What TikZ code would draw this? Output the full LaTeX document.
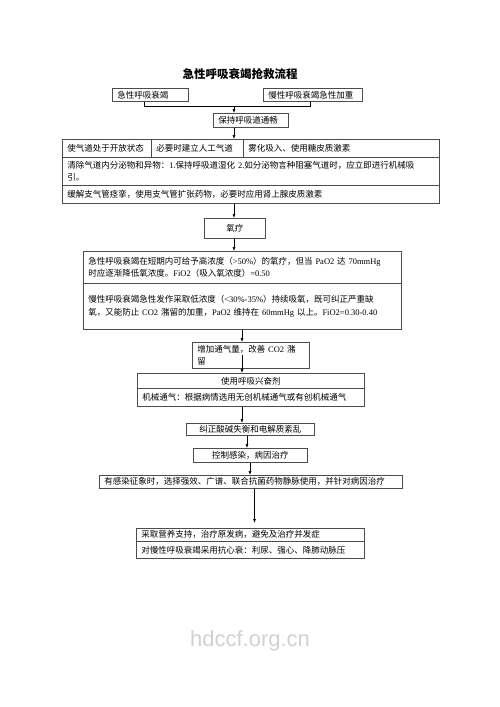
\documentclass[tikz,border=0pt]{standalone}
\usepackage{fontspec}
\setmainfont{Liberation Serif}
\newfontfamily\cjk{Noto Sans CJK SC}
\newfontfamily\wmfont{Liberation Sans}
\usetikzlibrary{arrows.meta}

\newcommand{\bodyfont}{\cjk\fontsize{8.5}{12.5}\selectfont}
\newcommand{\en}[1]{{\rmfamily #1}}

\tikzset{
  box/.style={draw=black!70, line width=0.6pt, anchor=north west,
    inner xsep=5pt, inner ysep=0pt, font=\bodyfont, align=left},
  midbox/.style={box, align=center},
}

\begin{document}
\begin{tikzpicture}[x=1pt, y=-1pt, >={Latex[length=4pt,width=3pt]}, line width=0.6pt]
\useasboundingbox (0,0) rectangle (500,707);

% Title
\node[font=\cjk\bfseries\fontsize{11.5}{14}\selectfont] (title) at (240,74) {急性呼吸衰竭抢救流程};

% Entry boxes
\node[box, text width=66pt, minimum height=13pt] (acute) at (112,88) {急性呼吸衰竭};
\node[box, text width=89pt, minimum height=13pt] (chronic) at (263,88) {慢性呼吸衰竭急性加重};
\node[box, text width=65pt, minimum height=14pt] (airway) at (213,113) {保持呼吸道通畅};

% Airway measures
\node[box, text width=79pt, minimum height=18pt] (cella) at (62,139) {使气道处于开放状态};
\node[box, text width=82pt, minimum height=18pt] (cellb) at (151,139) {必要时建立人工气道};
\node[box, text width=186pt, minimum height=18pt] (cellc) at (243,139) {雾化吸入、使用糖皮质激素};
\node[box, text width=367pt, minimum height=28pt] (rowb) at (62,157) {清除气道内分泌物和异物：\en{1.}保持呼吸道湿化 \en{2.}如分泌物言种阻塞气道时，应立即进行机械吸\\引。};
\node[box, text width=367pt, minimum height=18pt] (rowc) at (62,185) {缓解支气管痉挛，使用支气管扩张药物，必要时应用肾上腺皮质激素};

% Oxygen therapy
\node[midbox, text width=51pt, minimum height=20pt] (oxygen) at (204,218) {氧疗};
\node[box, text width=308pt, minimum height=32pt] (acuteo2) at (83,251) {急性呼吸衰竭在短期内可给予高浓度（\en{>50\%}）的氧疗，但当 \en{PaO2} 达 \en{70mmHg}\\时应逐渐降低氧浓度。\en{FiO2}（吸入氧浓度）\en{=0.50}};
\node[box, text width=308pt, minimum height=46pt] (chronico2) at (83,283) {慢性呼吸衰竭急性发作采取低浓度（\en{<30\%-35\%}）持续吸氧，既可纠正严重缺\\氧，又能防止 \en{CO2} 潴留的加重，\en{PaO2} 维持在 \en{60mmHg} 以上。\en{FiO2=0.30-0.40}};

% Ventilation
\node[box, text width=107pt, minimum height=26pt] (venti) at (192,342) {增加通气量，改善 \en{CO2} 潴\\留};
\node[midbox, text width=217pt, minimum height=15pt] (stima) at (137,373) {使用呼吸兴奋剂};
\node[box, text width=217pt, minimum height=18pt] (stimb) at (137,388) {机械通气：根据病情选用无创机械通气或有创机械通气};

% Further treatment
\node[midbox, text width=118pt, minimum height=12pt] (correct) at (186,423) {纠正酸碱失衡和电解质紊乱};
\node[midbox, text width=104pt, minimum height=14pt] (infect) at (193,448) {控制感染，病因治疗};
\node[box, text width=293pt, minimum height=13pt] (sign) at (99,475) {有感染征象时，选择强效、广谱、联合抗菌药物静脉使用，并针对病因治疗};
\node[box, text width=218pt, minimum height=13pt] (supporta) at (136,528) {采取营养支持，治疗原发病，避免及治疗并发症};
\node[box, text width=218pt, minimum height=17pt] (supportb) at (136,541) {对慢性呼吸衰竭采用抗心衰：利尿、强心、降肺动脉压};

% Watermark
\node[font=\wmfont\fontsize{22}{24}\selectfont, text=black!18] (mark) at (250,641) {hdccf.org.cn};

% Connecting lines
\coordinate (join) at (234,106.5);
\coordinate (ax) at (234,0);
\coordinate (bx) at (242,0);
\coordinate (cx) at (247,0);
\coordinate (dx) at (250,0);
\coordinate (ex) at (254.5,0);
\draw ([xshift=-6pt]acute.south) |- (join) -| ([xshift=-2.5pt]chronic.south);
\draw[->] (join) -- (airway.north -| join);
\draw[->] (airway.south -| ax) -- (cellb.north -| ax);
\draw[->] (rowc.south -| ax) -- (oxygen.north -| ax);
\draw[->] (oxygen.south -| ax) -- (acuteo2.north -| ax);
\draw[->] (chronico2.south -| bx) -- (venti.north -| bx);
\draw[->] (venti.center -| bx) -- (stima.north -| bx);
\draw[->] (stimb.south -| bx) -- (correct.north -| bx);
\draw[->] (correct.south -| cx) -- (infect.north -| cx);
\draw[->] (infect.south -| dx) -- (sign.north -| dx);
\draw[->, shorten >=5pt] (sign.south -| ex) -- (supporta.north -| ex);

\end{tikzpicture}
\end{document}
